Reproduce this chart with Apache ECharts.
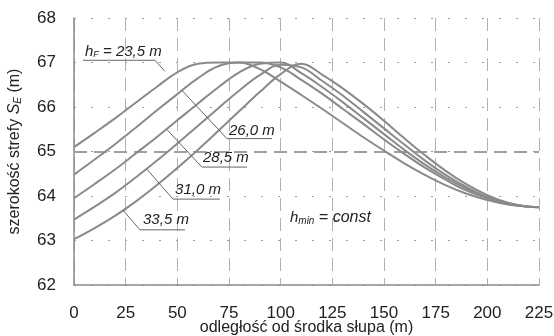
<!DOCTYPE html>
<html>
<head>
<meta charset="utf-8">
<script src="https://cdn.jsdelivr.net/npm/echarts@6/dist/echarts.min.js"></script>
<style>
  html, body { margin: 0; padding: 0; background: #fff; }
  #chart { width: 554px; height: 336px; }
</style>
</head>
<body>
<div id="chart"></div>
<script>
// distance from the pylon axis (m)
const distance = [0, 10, 20, 30, 40, 50, 60, 70, 80, 90, 100, 110, 120, 130, 140, 150, 160, 170, 180, 190, 200, 210, 220, 225];

// zone width S_E (m) for each conductor height h_F
const hF_23_5 = [65.10, 65.42, 65.75, 66.10, 66.45, 66.78, 66.97, 67.00, 67.00, 66.85, 66.57, 66.27, 65.96, 65.64, 65.32, 65.02, 64.73, 64.47, 64.24, 64.05, 63.91, 63.81, 63.76, 63.75];
const hF_26_0 = [64.48, 64.82, 65.17, 65.54, 65.92, 66.29, 66.65, 66.92, 67.00, 67.00, 66.89, 66.61, 66.30, 65.96, 65.62, 65.27, 64.94, 64.63, 64.36, 64.12, 63.95, 63.82, 63.76, 63.75];
const hF_28_5 = [63.95, 64.27, 64.60, 64.96, 65.32, 65.70, 66.08, 66.45, 66.78, 66.97, 67.00, 66.76, 66.45, 66.11, 65.75, 65.39, 65.03, 64.70, 64.41, 64.16, 63.96, 63.83, 63.76, 63.75];
const hF_31_0 = [63.47, 63.76, 64.07, 64.42, 64.79, 65.18, 65.58, 65.98, 66.37, 66.72, 66.95, 66.89, 66.59, 66.26, 65.89, 65.52, 65.15, 64.79, 64.47, 64.20, 63.98, 63.84, 63.76, 63.75];
const hF_33_5 = [63.03, 63.28, 63.56, 63.88, 64.24, 64.63, 65.04, 65.47, 65.91, 66.34, 66.74, 66.97, 66.73, 66.42, 66.07, 65.69, 65.29, 64.91, 64.56, 64.26, 64.02, 63.85, 63.76, 63.75];

const curves = [
  { name: '23,5 m', values: hF_23_5 },
  { name: '26,0 m', values: hF_26_0 },
  { name: '28,5 m', values: hF_28_5 },
  { name: '31,0 m', values: hF_31_0 },
  { name: '33,5 m', values: hF_33_5 }
];

// axis ranges and tick step
const xRange = [0, 225], xStep = 25;
const yRange = [62, 68], yStep = 1;
const referenceWidth = 65;

// annotation texts with leader lines (in data units)
const notes = [
  { rich: '{i|h}{s|F}{i| = 23,5 m}', at: [5.3, 67.25], leader: [[4.35, 67.05], [39.2, 67.05], [44.0, 66.80]] },
  { rich: '{i|26,0 m}', at: [75.0, 65.47], leader: [[52.3, 66.37], [74.0, 65.29], [95.8, 65.29]] },
  { rich: '{i|28,5 m}', at: [62.4, 64.85], leader: [[45.0, 65.49], [61.9, 64.65], [83.7, 64.65]] },
  { rich: '{i|31,0 m}', at: [48.9, 64.13], leader: [[35.3, 64.60], [47.9, 63.93], [70.6, 63.93]] },
  { rich: '{i|33,5 m}', at: [33.4, 63.46], leader: [[23.7, 63.68], [31.9, 63.24], [53.7, 63.24]] },
  { rich: '{i|h}{m|min}{j| = const}', at: [104.5, 63.52], leader: null }
];

const FONT = '"Liberation Sans", Arial, Helvetica, sans-serif';
const INK = '#222';

const chart = echarts.init(document.getElementById('chart'), null, { renderer: 'canvas' });

const series = curves.map((c, k) => ({
  name: c.name,
  type: 'line',
  data: distance.map((d, i) => [d, c.values[i]]),
  smooth: 0.4,
  showSymbol: false,
  silent: true,
  lineStyle: { color: '#8a8a8a', width: 2 },
  z: 3,
  markLine: k === 0 ? {
    silent: true,
    symbol: 'none',
    label: { show: false },
    lineStyle: { color: '#a0a0a0', width: 2, type: [13, 7] },
    data: [{ yAxis: referenceWidth }],
    z: 2
  } : undefined
}));

chart.setOption({
  animation: false,
  backgroundColor: '#fff',
  grid: { left: 74, right: 15, top: 18, bottom: 51, containLabel: false, outerBoundsMode: 'none' },
  xAxis: {
    type: 'value',
    min: xRange[0], max: xRange[1], interval: xStep,
    name: 'odległość od środka słupa (m)',
    nameLocation: 'middle',
    nameGap: 35,
    nameMoveOverlap: false,
    nameTextStyle: { fontFamily: FONT, fontSize: 16, color: INK, verticalAlign: 'top' },
    axisLine: { show: true, onZero: false, lineStyle: { color: '#8a8a8a', width: 1.5 } },
    axisTick: { show: false },
    axisLabel: { fontFamily: FONT, fontSize: 17, color: INK, margin: 20 },
    splitLine: { show: true, lineStyle: { color: '#b0b0b0', width: 1, type: [13, 7] } }
  },
  yAxis: {
    type: 'value',
    min: yRange[0], max: yRange[1], interval: yStep,
    name: 'szerokość strefy {it|S}{sub|E} (m)',
    nameLocation: 'middle',
    nameGap: 51,
    nameTextStyle: {
      fontFamily: FONT, fontSize: 16, color: INK,
      rich: {
        it: { fontFamily: FONT, fontSize: 16, fontStyle: 'italic', color: INK },
        sub: { fontFamily: FONT, fontSize: 10, fontStyle: 'italic', color: INK, padding: [7, 0, 0, 0] }
      }
    },
    axisLine: { show: true, lineStyle: { color: '#8a8a8a', width: 1.5 } },
    axisTick: { show: false },
    axisLabel: { fontFamily: FONT, fontSize: 17, color: INK, margin: 18 },
    splitLine: { show: true, lineStyle: { color: '#9a9a9a', width: 1, type: [2, 15] } }
  },
  series
});

// place annotations once the scales are known
function px(p) { return chart.convertToPixel({ gridIndex: 0 }, p); }
const richStyles = {
  i: { fontFamily: FONT, fontSize: 15, fontStyle: 'italic', fill: INK },
  j: { fontFamily: FONT, fontSize: 16, fontStyle: 'italic', fill: INK },
  s: { fontFamily: FONT, fontSize: 9, fontStyle: 'italic', fill: INK, padding: [7, 0, 0, 0] },
  m: { fontFamily: FONT, fontSize: 10, fontStyle: 'italic', fill: INK, padding: [8, 0, 0, 0] }
};
const graphic = [];
notes.forEach(n => {
  if (n.leader) {
    graphic.push({
      type: 'polyline', silent: true, z: 10,
      shape: { points: n.leader.map(px) },
      style: { stroke: '#666', lineWidth: 1, fill: null }
    });
  }
  const p = px(n.at);
  graphic.push({
    type: 'text', silent: true, z: 11,
    x: p[0], y: p[1],
    style: {
      text: n.rich, rich: richStyles,
      align: 'left', verticalAlign: 'middle',
      fontFamily: FONT, fontSize: 15, fill: INK
    }
  });
});
chart.setOption({ graphic });
</script>
</body>
</html>
